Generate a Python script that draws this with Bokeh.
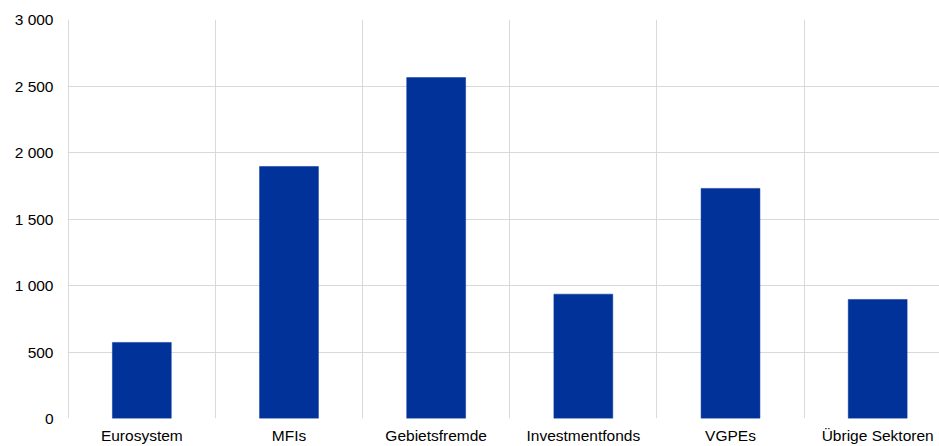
from bokeh.plotting import figure
from bokeh.models import FixedTicker, Range1d, ColumnDataSource
from bokeh.embed import file_html
from bokeh.resources import INLINE

categories = ["Eurosystem", "MFIs", "Gebietsfremde", "Investmentfonds", "VGPEs", "Übrige Sektoren"]
values = [572, 1895, 2563, 935, 1730, 895]
y_ticks = [0, 500, 1000, 1500, 2000, 2500, 3000]
y_tick_labels = ["0", "500", "1 000", "1 500", "2 000", "2 500", "3 000"]

FONT = "Liberation Sans"
BLUE = "#003299"

xs = [i + 0.5 for i in range(len(categories))]
src = ColumnDataSource(dict(x=xs, top=values, cat=categories))

p = figure(width=939, height=446, output_backend="svg", toolbar_location=None,
           x_range=Range1d(-0.005, 5.92), y_range=Range1d(0, 3000),
           min_border_left=67, min_border_right=0, min_border_top=19, min_border_bottom=27)
p.outline_line_color = None
p.background_fill_color = "white"
p.border_fill_color = "white"

p.vbar(x="x", top="top", width=0.4, bottom=0, source=src, fill_color=BLUE, line_color=BLUE, line_width=0.5)

# x axis
p.xaxis.ticker = FixedTicker(ticks=xs)
p.xaxis.major_label_overrides = {x: c for x, c in zip(xs, categories)}
p.xaxis.axis_line_color = None
p.xaxis.major_tick_line_color = None
p.xaxis.minor_tick_line_color = None
p.xaxis.major_tick_out = 0
p.xaxis.major_tick_in = 0
p.xaxis.major_label_standoff = 8
p.xaxis.major_label_text_font = FONT
p.xaxis.major_label_text_font_size = "15.5px"
p.xaxis.major_label_text_color = "#000000"

# y axis
p.yaxis.ticker = FixedTicker(ticks=y_ticks)
p.yaxis.major_label_overrides = {t: l for t, l in zip(y_ticks, y_tick_labels)}
p.yaxis.axis_line_color = None
p.yaxis.major_tick_line_color = None
p.yaxis.minor_tick_line_color = None
p.yaxis.major_tick_out = 0
p.yaxis.major_tick_in = 0
p.yaxis.major_label_standoff = 14
p.yaxis.major_label_text_font = FONT
p.yaxis.major_label_text_font_size = "15.5px"
p.yaxis.major_label_text_color = "#000000"

# grids
p.xgrid.ticker = FixedTicker(ticks=list(range(len(categories) + 1)))
p.xgrid.grid_line_color = "#d9d9d9"
p.xgrid.grid_line_width = 1
p.ygrid.ticker = FixedTicker(ticks=y_ticks)
p.ygrid.grid_line_color = "#d9d9d9"
p.ygrid.grid_line_width = 1
p.grid.level = "underlay"

open("out.html", "w").write(file_html(p, INLINE))
